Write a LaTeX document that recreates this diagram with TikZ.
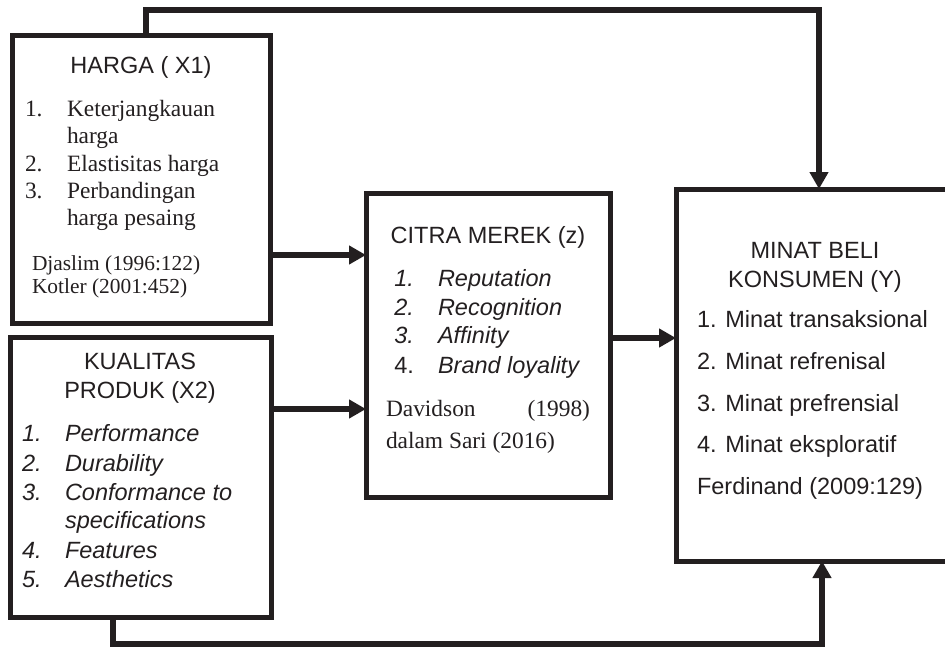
\documentclass[tikz,border=0pt]{standalone}
\usepackage{fontspec}
\setmainfont{Liberation Serif}
\newfontfamily\arsans{Liberation Sans}
\usetikzlibrary{arrows.meta}
\definecolor{ink}{HTML}{231F20}
\newcommand{\sansf}{\arsans\fontsize{23.5}{28}\selectfont}
\newcommand{\sansi}{\arsans\itshape\fontsize{23.5}{28}\selectfont}
\newcommand{\serf}{\rmfamily\fontsize{23.4}{28}\selectfont}
\newcommand{\sers}{\rmfamily\fontsize{21.4}{25}\selectfont}
\begin{document}
\begin{tikzpicture}[x=1pt,y=-1pt,
  box/.style={draw=ink, line width=5pt, inner sep=0pt, outer sep=0pt},
  arr/.style={draw=ink, line width=5.5pt, -{Triangle[length=17pt,width=18pt]}},
  tl/.style={inner sep=0pt, outer sep=0pt, text=ink, anchor=base west},
  tc/.style={inner sep=0pt, outer sep=0pt, text=ink, anchor=base},
  tr/.style={inner sep=0pt, outer sep=0pt, text=ink, anchor=base east}]
\useasboundingbox (0,0) rectangle (945,648);
% boxes
\node[box, minimum width=258pt, minimum height=288pt] (harga) at (141,179) {};
\node[box, minimum width=261pt, minimum height=280pt] (kual) at (140.5,477) {};
\node[box, minimum width=244pt, minimum height=304pt] (citra) at (488,345) {};
\node[box, minimum width=282pt, minimum height=372pt] (minat) at (817,375) {};
% HARGA text
\node[tc, font=\sansf] (h0) at (141,73) {HARGA ( X1)};
\node[tl, font=\serf] (h1n) at (25,116) {1.};
\node[tl, font=\serf] (h1) at (67,116) {Keterjangkauan};
\node[tl, font=\serf] (h1b) at (67,143) {harga};
\node[tl, font=\serf] (h2n) at (25,171) {2.};
\node[tl, font=\serf] (h2) at (67,171) {Elastisitas harga};
\node[tl, font=\serf] (h3n) at (25,198) {3.};
\node[tl, font=\serf] (h3) at (67,198) {Perbandingan};
\node[tl, font=\serf] (h3b) at (67,225) {harga pesaing};
\node[tl, font=\sers] (hr1) at (32,270) {Djaslim (1996:122)};
\node[tl, font=\sers] (hr2) at (32,293) {Kotler (2001:452)};
% KUALITAS text
\node[tc, font=\sansf] (k0) at (140,369) {KUALITAS};
\node[tc, font=\sansf] (k0b) at (140,398) {PRODUK (X2)};
\node[tl, font=\sansi] (k1n) at (22,441) {1.};
\node[tl, font=\sansi] (k1) at (65,441) {Performance};
\node[tl, font=\sansi] (k2n) at (22,471) {2.};
\node[tl, font=\sansi] (k2) at (65,471) {Durability};
\node[tl, font=\sansi] (k3n) at (22,500) {3.};
\node[tl, font=\sansi] (k3) at (65,500) {Conformance to};
\node[tl, font=\sansi] (k3b) at (65,528) {specifications};
\node[tl, font=\sansi] (k4n) at (22,558) {4.};
\node[tl, font=\sansi] (k4) at (65,558) {Features};
\node[tl, font=\sansi] (k5n) at (22,587) {5.};
\node[tl, font=\sansi] (k5) at (65,587) {Aesthetics};
% CITRA text
\node[tc, font=\sansf] (c0) at (488,243) {CITRA MEREK (z)};
\node[tr, font=\sansi] (c1n) at (414,286) {1.};
\node[tl, font=\sansi] (c1) at (438,286) {Reputation};
\node[tr, font=\sansi] (c2n) at (414,315) {2.};
\node[tl, font=\sansi] (c2) at (438,315) {Recognition};
\node[tr, font=\sansi] (c3n) at (414,343) {3.};
\node[tl, font=\sansi] (c3) at (438,343) {Affinity};
\node[tr, font=\sansf] (c4n) at (414,373) {4.};
\node[tl, font=\sansi] (c4) at (438,373) {Brand loyality};
\node[tl, font=\serf] (cr1) at (386,416) {Davidson};
\node[tr, font=\serf] (cr1b) at (590,416) {(1998)};
\node[tl, font=\serf] (cr2) at (386,448) {dalam Sari (2016)};
% MINAT text
\node[tc, font=\sansf] (m0) at (815,258) {MINAT BELI};
\node[tc, font=\sansf] (m0b) at (815,287) {KONSUMEN (Y)};
\node[tl, font=\sansf] (m1) at (697,327) {1. Minat transaksional};
\node[tl, font=\sansf] (m2) at (697,369) {2. Minat refrenisal};
\node[tl, font=\sansf] (m3) at (697,411) {3. Minat prefrensial};
\node[tl, font=\sansf] (m4) at (697,452) {4. Minat eksploratif};
\node[tl, font=\sansf] (m5) at (697,494) {Ferdinand (2009:129)};
% connectors
\coordinate (t1) at (146,10);
\coordinate (t2) at (819,10);
\coordinate (b1) at (113,644);
\coordinate (b2) at (822,644);
\coordinate (y1) at (0,255);
\coordinate (y2) at (0,409);
\coordinate (y3) at (0,338);
\draw[arr] (harga.north -| t1) -- (t1) -- (t2) -- (minat.north -| t2);
\draw[arr] (kual.south -| b1) -- (b1) -- (b2) -- (minat.south -| b2);
\draw[arr] (harga.east |- y1) -- (citra.west |- y1);
\draw[arr] (kual.east |- y2) -- (citra.west |- y2);
\draw[arr] (citra.east |- y3) -- (minat.west |- y3);
\end{tikzpicture}
\end{document}
